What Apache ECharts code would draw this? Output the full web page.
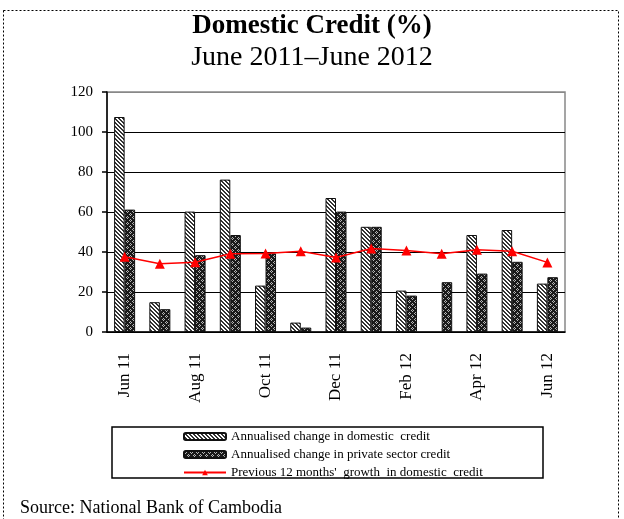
<!DOCTYPE html>
<html>
<head>
<meta charset="utf-8">
<script src="https://cdn.jsdelivr.net/npm/echarts@6/dist/echarts.min.js"></script>
<style>html,body{margin:0;padding:0;background:#fff;}#c{width:624px;height:519px;}</style>
</head>
<body>
<div id="c"></div>
<script>
var categories = ['Jun 11','Jul 11','Aug 11','Sep 11','Oct 11','Nov 11','Dec 11','Jan 12','Feb 12','Mar 12','Apr 12','May 12','Jun 12'];
var domestic = [107.5, 14.9, 60.2, 76.2, 23.2, 4.7, 67.0, 52.6, 20.7, null, 48.5, 51.0, 24.2];
var privateSector = [61.2, 11.4, 38.4, 48.5, 39.3, 2.2, 60.2, 52.6, 18.2, 24.9, 29.2, 35.1, 27.4];
var prev12 = [37.6, 34.1, 34.9, 39.1, 39.3, 40.4, 37.3, 41.8, 40.8, 39.1, 41.1, 40.4, 34.8];
var yTicks = [0, 20, 40, 60, 80, 100, 120];
var seriesNames = ['Annualised change in domestic  credit', 'Annualised change in private sector credit', "Previous 12 months'  growth  in domestic  credit"];

function stripePattern() {
  var c = document.createElement('canvas'); c.width = 4; c.height = 4;
  var ctx = c.getContext('2d');
  ctx.fillStyle = '#fff'; ctx.fillRect(0,0,4,4);
  ctx.fillStyle = '#333';
  for (var y = 0; y < 4; y++) for (var x = 0; x < 4; x++) {
    if (((x - y + 8) % 4) < 2) ctx.fillRect(x, y, 1, 1);
  }
  return c;
}
function crossPattern() {
  var c = document.createElement('canvas'); c.width = 6; c.height = 6;
  var ctx = c.getContext('2d');
  ctx.fillStyle = '#1a1a1a'; ctx.fillRect(0,0,6,6);
  ctx.fillStyle = '#b8b8b8';
  var pts = [[1,0],[0,1],[2,1],[1,2],[4,3],[3,4],[5,4],[4,5]];
  pts.forEach(function(p){ ctx.fillRect(p[0], p[1], 1, 1); });
  return c;
}

var serif = 'Liberation Serif, Times New Roman, serif';
var chart = echarts.init(document.getElementById('c'), null, {renderer: 'canvas'});
chart.setOption({
  animation: false,
  backgroundColor: '#fff',
  grid: {left: 107, right: 59, top: 92, bottom: 187, show: true, borderColor: '#888', borderWidth: 1.5, backgroundColor: 'transparent'},
  xAxis: {
    type: 'category', data: categories, boundaryGap: true,
    axisLine: {lineStyle: {color: '#000', width: 1.5}},
    axisTick: {interval: 1, length: 6, lineStyle: {color: '#000', width: 1.5}},
    axisLabel: {interval: 1, rotate: 90, margin: 21, fontSize: 17, fontFamily: serif, color: '#000'}
  },
  yAxis: {
    type: 'value', min: yTicks[0], max: yTicks[yTicks.length-1], interval: 20,
    axisLine: {show: true, lineStyle: {color: '#000', width: 1.5}},
    axisTick: {show: true, length: 5, lineStyle: {color: '#000', width: 1.5}},
    axisLabel: {margin: 14, fontSize: 15, fontFamily: serif, color: '#000'},
    splitLine: {lineStyle: {color: ['#000','#000','#000','#000','#000','#000','#888'], width: 1.2}}
  },
  legend: {
    data: seriesNames, orient: 'vertical', left: 183, top: 430, padding: 0,
    itemWidth: 42, itemHeight: 7, itemGap: 5,
    textStyle: {fontFamily: serif, fontSize: 13, lineHeight: 13, color: '#000'}
  },
  series: [
    {name: seriesNames[0], type: 'bar', data: domestic, barWidth: 10.5, barGap: '0%',
     itemStyle: {color: {image: stripePattern(), repeat: 'repeat'}, borderColor: '#111', borderWidth: 1}},
    {name: seriesNames[1], type: 'bar', data: privateSector, barWidth: 10.5, barGap: '0%',
     itemStyle: {color: {image: crossPattern(), repeat: 'repeat'}, borderColor: '#111', borderWidth: 1}},
    {name: seriesNames[2], type: 'line', data: prev12, symbol: 'triangle', symbolSize: 10,
     itemStyle: {color: '#f00'}, lineStyle: {color: '#f00', width: 1.5}, z: 5}
  ],
  graphic: [
    {type: 'rect', shape: {x: 3.5, y: 10.5, width: 615, height: 530}, style: {fill: null, stroke: '#000', lineWidth: 1, lineDash: [2, 2]}, silent: true},
    {type: 'text', x: 312, y: 26, style: {text: 'Domestic Credit (%)', font: 'bold 27px ' + serif, fill: '#000', align: 'center', verticalAlign: 'middle'}},
    {type: 'text', x: 312, y: 58, style: {text: 'June 2011\u2013June 2012', font: '28px ' + serif, fill: '#000', align: 'center', verticalAlign: 'middle'}},
    {type: 'rect', shape: {x: 112, y: 427, width: 431, height: 51}, style: {fill: null, stroke: '#000', lineWidth: 1.5}, silent: true},
    {type: 'text', x: 20, y: 508, style: {text: 'Source: National Bank of Cambodia', font: '18px ' + serif, fill: '#000', align: 'left', verticalAlign: 'middle'}}
  ]
});
</script>
</body>
</html>
